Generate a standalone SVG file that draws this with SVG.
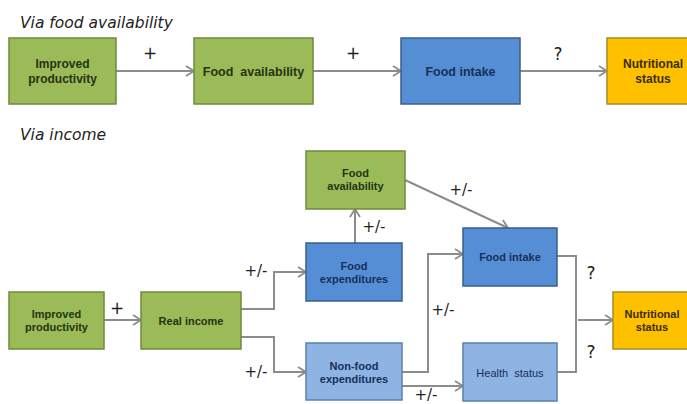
<svg xmlns="http://www.w3.org/2000/svg" width="687" height="404" viewBox="0 0 687 404">
<defs>
<marker id="arr" markerUnits="userSpaceOnUse" markerWidth="12" markerHeight="14" refX="9" refY="6" orient="auto">
<path d="M1,1 L9,6 L1,11" fill="none" stroke="#8c8c8c" stroke-width="1.8"/>
</marker>
</defs>
<style>
.title{font-family:"DejaVu Sans",Verdana,sans-serif;font-style:italic;font-size:15.5px;fill:#222}
.green rect{fill:#9bbb59;stroke:#6f8a3c;stroke-width:1.5}
.blue rect{fill:#558ed5;stroke:#3a5e8c;stroke-width:1.5}
.lblue rect{fill:#8eb4e3;stroke:#5b80ad;stroke-width:1.5}
.orange rect{fill:#ffc000;stroke:#a88a2a;stroke-width:1.5}
.t{font-family:"Liberation Sans",Arial,sans-serif;font-weight:bold;text-anchor:middle}
.green text{fill:#263312}
.blue text,.lblue text{fill:#17305a}
.orange text{fill:#3a2d00}
.lab{font-family:"DejaVu Sans",Verdana,sans-serif;font-size:15px;fill:#222;text-anchor:middle}
.big{font-size:17px}
.c{fill:none;stroke:#8c8c8c;stroke-width:2}
</style>
<rect width="687" height="404" fill="#fff"/>
<text class="title" x="20" y="28">Via food availability</text>
<text class="title" x="20" y="140">Via income</text>

<g id="connectors">
<path class="c" d="M116,71 H194" marker-end="url(#arr)"/>
<path class="c" d="M313,71 H401" marker-end="url(#arr)"/>
<path class="c" d="M520,71 H607" marker-end="url(#arr)"/>
<path class="c" d="M104,320 H141" marker-end="url(#arr)"/>
<path class="c" d="M241,309 H274 V272 H306" marker-end="url(#arr)"/>
<path class="c" d="M241,337 H274 V372 H306" marker-end="url(#arr)"/>
<path class="c" d="M355,243 V209" marker-end="url(#arr)"/>
<path class="c" d="M405,180 L508,228" marker-end="url(#arr)"/>
<path class="c" d="M402,372 H428 V254 H463" marker-end="url(#arr)"/>
<path class="c" d="M402,386 H463" marker-end="url(#arr)"/>
<path class="c" d="M557,256 H576 V372 H557"/>
<path class="c" d="M578,320 H613" marker-end="url(#arr)"/>
<text class="lab big" x="150" y="59">+</text>
<text class="lab big" x="353" y="59">+</text>
<text class="lab big" x="558" y="60">?</text>
<text class="lab big" x="117" y="314">+</text>
<text class="lab" x="256" y="276">+/-</text>
<text class="lab" x="256" y="377">+/-</text>
<text class="lab" x="374" y="232">+/-</text>
<text class="lab" x="461" y="195">+/-</text>
<text class="lab" x="443" y="315">+/-</text>
<text class="lab" x="426" y="400">+/-</text>
<text class="lab big" x="591" y="279">?</text>
<text class="lab big" x="591" y="358">?</text>
</g>

<g id="top-improved" class="green"><rect x="9" y="38" width="107" height="66"/><text class="t" font-size="12"><tspan x="62.5" y="68">Improved</tspan><tspan x="62.5" y="83">productivity</tspan></text></g>
<g id="top-availability" class="green"><rect x="194" y="38" width="119" height="66"/><text class="t" font-size="12.5" x="253.5" y="76" xml:space="preserve">Food  availability</text></g>
<g id="top-intake" class="blue"><rect x="401" y="38" width="119" height="66"/><text class="t" font-size="12.5" x="460.5" y="76">Food intake</text></g>
<g id="top-nutritional" class="orange"><rect x="607" y="38" width="100" height="66"/><text class="t" font-size="12"><tspan x="653" y="68">Nutritional</tspan><tspan x="653" y="83">status</tspan></text></g>

<g id="improved" class="green"><rect x="9" y="292" width="95" height="57"/><text class="t" font-size="11"><tspan x="56.5" y="318">Improved</tspan><tspan x="56.5" y="331">productivity</tspan></text></g>
<g id="real-income" class="green"><rect x="141" y="292" width="100" height="57"/><text class="t" font-size="11" x="191" y="325">Real income</text></g>
<g id="food-availability" class="green"><rect x="306" y="151" width="99" height="58"/><text class="t" font-size="11"><tspan x="355.5" y="177">Food</tspan><tspan x="355.5" y="190">availability</tspan></text></g>
<g id="food-expenditures" class="blue"><rect x="306" y="243" width="96" height="58"/><text class="t" font-size="11"><tspan x="354" y="270">Food</tspan><tspan x="354" y="283">expenditures</tspan></text></g>
<g id="nonfood-expenditures" class="lblue"><rect x="306" y="343" width="96" height="57"/><text class="t" font-size="11"><tspan x="354" y="370">Non-food</tspan><tspan x="354" y="383">expenditures</tspan></text></g>
<g id="food-intake" class="blue"><rect x="463" y="228" width="94" height="58"/><text class="t" font-size="11" x="510" y="261">Food intake</text></g>
<g id="health-status" class="lblue"><rect x="463" y="343" width="94" height="58"/><text class="t" font-size="11" style="font-weight:normal" x="510" y="377" xml:space="preserve">Health  status</text></g>
<g id="nutritional" class="orange"><rect x="613" y="292" width="90" height="57"/><text class="t" font-size="11"><tspan x="652" y="318">Nutritional</tspan><tspan x="652" y="331">status</tspan></text></g>
</svg>
